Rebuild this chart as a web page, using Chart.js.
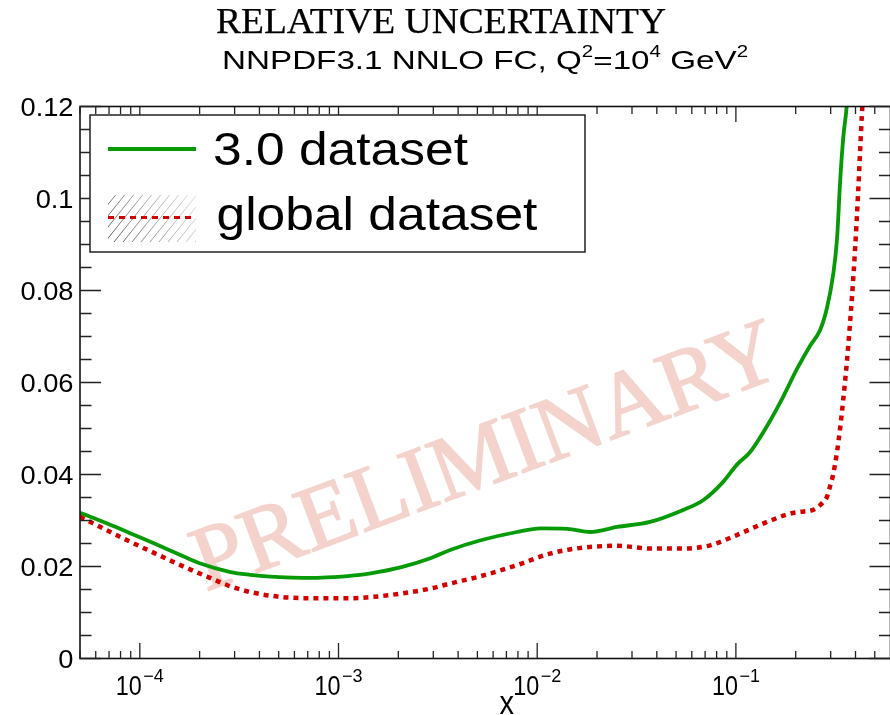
<!DOCTYPE html>
<html>
<head>
<meta charset="utf-8">
<script src="https://cdn.jsdelivr.net/npm/chart.js@4.4.1/dist/chart.umd.min.js"></script>
<style>
  html, body { margin: 0; padding: 0; background: #fff; overflow: hidden; width: 890px; height: 715px; }
  canvas { display: block; }
</style>
</head>
<body>
<canvas id="c" width="900" height="715"></canvas>
<script>
// ---- text ----
const titleText = 'RELATIVE UNCERTAINTY';
// [text, isSuperscript]
const subtitleParts = [['NNPDF3.1 NNLO FC, Q', 0], ['2', 1], ['=10', 0], ['4', 1], [' GeV', 0], ['2', 1]];
const seriesNames = ['3.0 dataset', 'global dataset'];
const watermarkText = 'PRELIMINARY';
const xAxisTitle = 'x';

// ---- relative uncertainty vs x ----
const xData30 = [5e-5, 7e-5, 9e-5, 1.2e-4, 1.6e-4, 2e-4, 2.86e-4, 3.6e-4, 4.54e-4, 5.8e-4, 7.5e-4, 9.5e-4,
  1.11e-3, 1.45e-3, 2.05e-3, 2.9e-3, 3.65e-3, 5.2e-3, 7.9e-3, 1.04e-2, 1.42e-2, 1.85e-2, 2.53e-2, 3.7e-2,
  5.43e-2, 6.84e-2, 8.63e-2, 0.1015, 0.118, 0.1437, 0.1729, 0.2033, 0.2363, 0.2654, 0.2877, 0.3086, 0.3231,
  0.3345, 0.347, 0.361, 0.38];
const yData30 = [0.0317, 0.0292, 0.0272, 0.0249, 0.0225, 0.0207, 0.0188, 0.0182, 0.0178, 0.0176, 0.01754, 0.0177,
  0.0179, 0.0185, 0.0198, 0.0218, 0.0236, 0.0257, 0.0275, 0.0283, 0.0282, 0.0275, 0.0286, 0.0297,
  0.0323, 0.0344, 0.0384, 0.0422, 0.0449, 0.0506, 0.0569, 0.0630, 0.0680, 0.0714, 0.0763, 0.0834, 0.0914,
  0.1035, 0.1132, 0.1200, 0.1350];

const xDataGlobal = [5e-5, 8e-5, 1.2e-4, 1.6e-4, 2.18e-4, 2.86e-4, 3.73e-4, 5.1e-4, 7.47e-4, 1.11e-3, 1.5e-3,
  2.05e-3, 2.9e-3, 3.65e-3, 5.2e-3, 7.9e-3, 1.16e-2, 1.7e-2, 2.53e-2, 3.7e-2, 5.43e-2, 7.42e-2, 9.69e-2,
  0.1437, 0.1875, 0.2105, 0.2446, 0.2748, 0.2877, 0.298, 0.3086, 0.3231, 0.3345, 0.3464, 0.3628, 0.3845,
  0.398, 0.412, 0.4316, 0.45];
const yDataGlobal = [0.0308, 0.0264, 0.0228, 0.0203, 0.0178, 0.0157, 0.0143, 0.0134, 0.0131, 0.0131, 0.0134,
  0.0141, 0.0152, 0.0163, 0.0179, 0.0203, 0.0228, 0.0241, 0.0245, 0.0239, 0.0239, 0.0246, 0.0265,
  0.0297, 0.0315, 0.0319, 0.0323, 0.0340, 0.0352, 0.0375, 0.0400, 0.0450, 0.0500, 0.0560, 0.0650, 0.0790,
  0.0890, 0.1010, 0.1190, 0.1320];

// ---- axes ----
const xRange = [5e-5, 0.6];
const yRange = [0, 0.12];
const xTickExponents = [-4, -3, -2, -1];
const yTickValues = [0, 0.02, 0.04, 0.06, 0.08, 0.1, 0.12];
const yTickLabels = ['0', '0.02', '0.04', '0.06', '0.08', '0.1', '0.12'];
const yMinorStep = 0.005;

const GREEN = '#079a07';
const RED = '#d40000';
const SANS = '"Liberation Sans", Arial, Helvetica, sans-serif';
const SERIF = '"Liberation Serif", "Times New Roman", serif';

function toPoints(xs, ys) { return xs.map((x, i) => ({ x: x, y: ys[i] })); }

// draws text starting at `left` on `baseline`, squeezed/stretched to `width`
function fitText(ctx, text, font, left, baseline, width, strokeW) {
  ctx.save();
  ctx.font = font;
  const w = ctx.measureText(text).width;
  ctx.translate(left, baseline);
  ctx.scale(width / w, 1);
  ctx.textAlign = 'left';
  ctx.textBaseline = 'alphabetic';
  ctx.fillText(text, 0, 0);
  if (strokeW) {
    ctx.lineWidth = strokeW;
    ctx.strokeStyle = ctx.fillStyle;
    ctx.strokeText(text, 0, 0);
  }
  ctx.restore();
}

const decorations = {
  id: 'decorations',
  beforeDraw(chart) {
    const ctx = chart.ctx;
    ctx.save();
    ctx.fillStyle = '#fff';
    ctx.fillRect(0, 0, chart.width, chart.height);
    ctx.restore();
  },
  beforeDatasetsDraw(chart) {
    // watermark behind the curves
    const ctx = chart.ctx;
    ctx.save();
    ctx.translate(496, 483);
    ctx.rotate(-20.5 * Math.PI / 180);
    ctx.font = '92px ' + SERIF;
    const w = ctx.measureText(watermarkText).width;
    ctx.scale(620 / w, 1);
    ctx.fillStyle = '#f4d3cd';
    ctx.strokeStyle = '#f4d3cd';
    ctx.lineWidth = 1.6;
    ctx.textAlign = 'center';
    ctx.textBaseline = 'alphabetic';
    ctx.fillText(watermarkText, 0, 0);
    ctx.strokeText(watermarkText, 0, 0);
    ctx.restore();
  },
  afterDraw(chart) {
    const ctx = chart.ctx;
    const a = chart.chartArea;
    const xs = chart.scales.x, ys = chart.scales.y;

    // frame
    ctx.save();
    ctx.strokeStyle = '#111';
    ctx.lineWidth = 1.6;
    ctx.strokeRect(a.left, a.top, a.right - a.left, a.bottom - a.top);

    // inward ticks
    ctx.lineWidth = 1.3;
    ctx.strokeStyle = '#222';
    ctx.beginPath();
    for (let e = -5; e <= 0; e++) {
      for (let k = 1; k <= 9; k++) {
        const v = k * Math.pow(10, e);
        if (v < xRange[0] || v > xRange[1]) continue;
        const px = xs.getPixelForValue(v);
        const len = k === 1 ? 15.5 : 7.5;
        ctx.moveTo(px, a.bottom); ctx.lineTo(px, a.bottom - len);
        ctx.moveTo(px, a.top); ctx.lineTo(px, a.top + len);
      }
    }
    const nMinor = Math.round((yRange[1] - yRange[0]) / yMinorStep);
    for (let i = 0; i <= nMinor; i++) {
      const v = yRange[0] + i * yMinorStep;
      const py = ys.getPixelForValue(v);
      const len = i % 4 === 0 ? 21 : 11.5;
      ctx.moveTo(a.left, py); ctx.lineTo(a.left + len, py);
      ctx.moveTo(a.right, py); ctx.lineTo(a.right - len, py);
    }
    ctx.stroke();
    ctx.restore();

    // legend box
    ctx.save();
    const lb = { l: 90, t: 115, r: 585, b: 252 };
    ctx.fillStyle = '#fff';
    ctx.fillRect(lb.l, lb.t, lb.r - lb.l, lb.b - lb.t);
    ctx.strokeStyle = '#222';
    ctx.lineWidth = 1.5;
    ctx.strokeRect(lb.l, lb.t, lb.r - lb.l, lb.b - lb.t);

    // 3.0 dataset sample
    ctx.strokeStyle = GREEN;
    ctx.lineWidth = 4;
    ctx.beginPath(); ctx.moveTo(108, 149); ctx.lineTo(196, 149); ctx.stroke();

    // global dataset sample: hatched band + dashed line
    ctx.save();
    ctx.beginPath(); ctx.rect(108, 195, 88, 47); ctx.clip();
    const grad = ctx.createLinearGradient(108, 242, 196, 195);
    grad.addColorStop(0, 'rgba(40,40,40,0.85)');
    grad.addColorStop(0.5, 'rgba(90,90,90,0.6)');
    grad.addColorStop(1, 'rgba(150,150,150,0.35)');
    ctx.strokeStyle = grad;
    ctx.lineWidth = 0.9;
    ctx.beginPath();
    for (let s = 60; s < 260; s += 9) {
      ctx.moveTo(s, 242); ctx.lineTo(s + 47 / 1.25, 195);
    }
    ctx.stroke();
    ctx.restore();
    ctx.strokeStyle = RED;
    ctx.lineWidth = 3;
    ctx.setLineDash([6, 5]);
    ctx.beginPath(); ctx.moveTo(108, 217.5); ctx.lineTo(196, 217.5); ctx.stroke();
    ctx.setLineDash([]);

    ctx.fillStyle = '#000';
    ctx.font = '46px ' + SANS;
    const legScale = 255 / ctx.measureText(seriesNames[0]).width;
    [[seriesNames[0], 213, 165], [seriesNames[1], 216.5, 230]].forEach(([t, x, y]) => {
      ctx.save();
      ctx.translate(x, y); ctx.scale(legScale, 1);
      ctx.fillText(t, 0, 0);
      ctx.restore();
    });
    ctx.restore();

    // y tick labels
    ctx.save();
    ctx.fillStyle = '#000';
    ctx.font = '25.5px ' + SANS;
    const yScaleX = 53 / ctx.measureText('0.12').width;
    ctx.textAlign = 'right';
    ctx.textBaseline = 'alphabetic';
    yTickValues.forEach((v, i) => {
      const py = ys.getPixelForValue(v);
      ctx.save();
      ctx.translate(73.5, py + 9); ctx.scale(yScaleX, 1);
      ctx.fillText(yTickLabels[i], 0, 0);
      ctx.restore();
    });
    ctx.restore();

    // x tick labels: 10 with superscript exponent
    ctx.save();
    ctx.fillStyle = '#000';
    ctx.textAlign = 'left';
    ctx.textBaseline = 'alphabetic';
    xTickExponents.forEach(e => {
      const px = xs.getPixelForValue(Math.pow(10, e));
      ctx.font = '18px ' + SANS;
      const sup = '\u2212' + Math.abs(e);
      const supW = ctx.measureText(sup).width;
      const baseW = 26;
      const left = px - (baseW + 1.5 + supW) / 2;
      ctx.fillText(sup, left + baseW + 1.5, 681.5);
      fitText(ctx, '10', '28px ' + SANS, left, 695, baseW);
    });
    fitText(ctx, xAxisTitle, '33px ' + SANS, 499.5, 713.5, 14.5);
    ctx.restore();

    // titles
    ctx.save();
    ctx.fillStyle = '#000';
    fitText(ctx, titleText, '35px ' + SERIF, 216, 33, 450, 0.25);
    const mainFont = '26px ' + SANS, supFont = '16px ' + SANS;
    let total = 0;
    const widths = subtitleParts.map(([t, s]) => {
      ctx.font = s ? supFont : mainFont;
      const w = ctx.measureText(t).width;
      total += w;
      return w;
    });
    const k = 526 / total;
    let x = 222;
    subtitleParts.forEach(([t, s], i) => {
      ctx.save();
      ctx.font = s ? supFont : mainFont;
      ctx.translate(x, s ? 56.7 : 68.5);
      ctx.scale(k, 1);
      ctx.fillText(t, 0, 0);
      ctx.restore();
      x += widths[i] * k;
    });
    ctx.restore();
  }
};

new Chart(document.getElementById('c'), {
  type: 'line',
  data: {
    datasets: [
      {
        label: seriesNames[1],
        data: toPoints(xDataGlobal, yDataGlobal),
        borderColor: RED,
        borderWidth: 4.5,
        borderDash: [5, 5],
        borderCapStyle: 'butt',
        pointRadius: 0,
        fill: false,
        cubicInterpolationMode: 'monotone',
        clip: 0
      },
      {
        label: seriesNames[0],
        data: toPoints(xData30, yData30),
        borderColor: GREEN,
        borderWidth: 3.8,
        pointRadius: 0,
        fill: false,
        cubicInterpolationMode: 'monotone',
        clip: 0
      }
    ]
  },
  options: {
    responsive: false,
    animation: false,
    events: [],
    layout: { padding: { left: 80, top: 106.5, right: 9.5, bottom: 56.5 } },
    plugins: { legend: { display: false }, title: { display: false }, tooltip: { enabled: false } },
    scales: {
      x: { type: 'logarithmic', min: xRange[0], max: xRange[1], display: false },
      y: { type: 'linear', min: yRange[0], max: yRange[1], display: false }
    }
  },
  plugins: [decorations]
});
</script>
</body>
</html>
